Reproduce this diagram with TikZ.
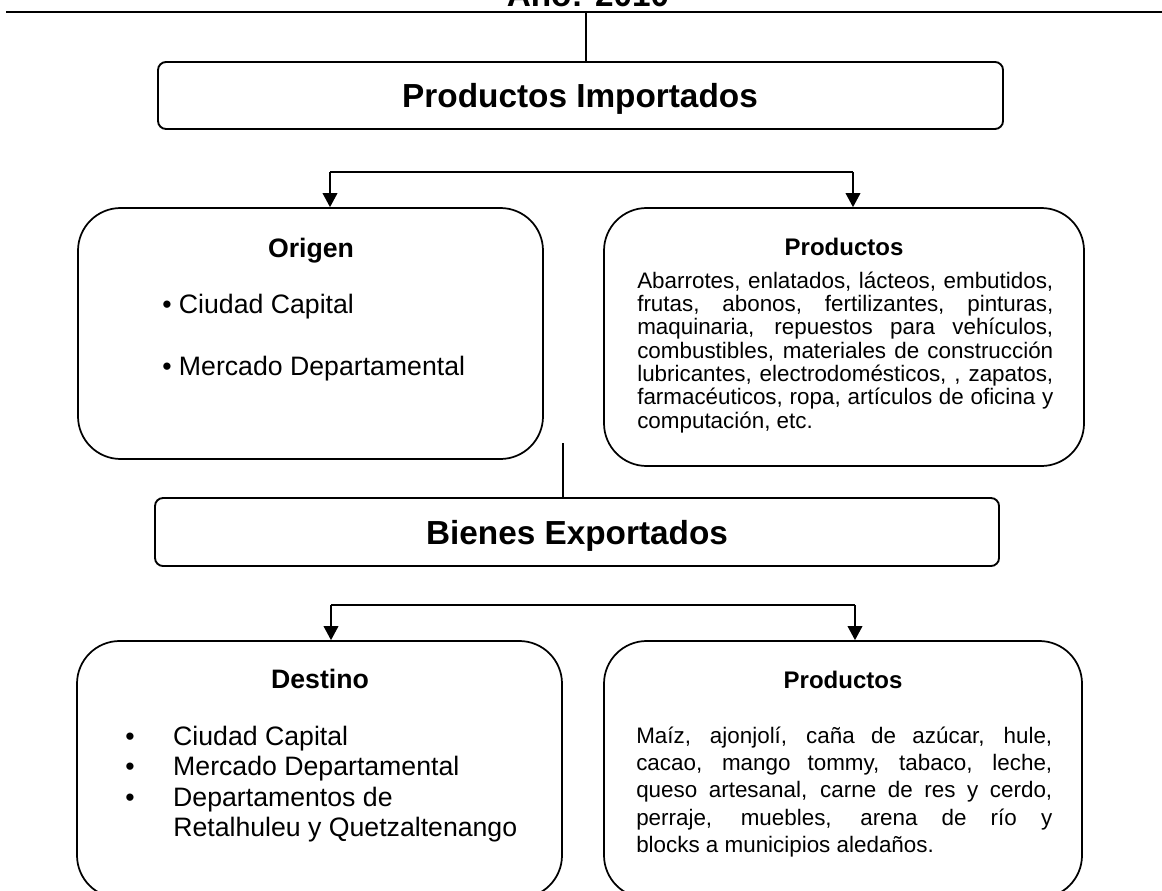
\documentclass[tikz,border=0pt]{standalone}
\usepackage{fontspec}
\setmainfont{Liberation Sans}
\usetikzlibrary{fit,arrows.meta}
\hyphenpenalty=10000
\exhyphenpenalty=10000

\begin{document}
\begin{tikzpicture}[x=0.75pt, y=-0.75pt,
    caja/.style={draw, line width=1.4pt, rounded corners=6pt, inner sep=0pt},
    cajota/.style={draw, line width=1.3pt, rounded corners=32pt, inner sep=0pt},
    titulo/.style={font=\bfseries\fontsize{25}{29}\selectfont, anchor=base},
    sub/.style={font=\bfseries\fontsize{20}{24}\selectfont, anchor=base, inner sep=0pt},
    item/.style={font=\fontsize{20}{24}\selectfont, anchor=base west, inner sep=0pt},
    texto/.style={font=\fontsize{16.8}{17.5}\selectfont, align=justify, text width=312pt,
        anchor=base west, inner sep=0pt},
    linea/.style={line width=1.1pt},
    flecha/.style={linea, -{Triangle[width=11pt,length=10.5pt]}}]
    \useasboundingbox (0,0) rectangle (1162,891);

    % titulo cortado y raya de arriba
    \node[titulo] (anio) at (588,7) {Año: 2010};
    \coordinate (rayaI) at (6,12);
    \coordinate (rayaD) at (1162,12);
    \draw[linea] (rayaI) -- (rayaD);

    % importados
    \node[caja, fit={(158,62) (1003,129)}] (imp) {};
    \node[titulo] (tImp) at (580,108) {Productos Importados};
    \coordinate (t1) at (586,12);
    \draw[linea] (t1) -- (t1 |- imp.north);

    \node[cajota, fit={(78,208) (543,459)}] (origen) {};
    \node[cajota, fit={(604,208) (1084,466)}] (prodimp) {};

    \coordinate (b1i) at (330,172);
    \coordinate (b1d) at (853,172);
    \draw[linea] (b1i) -- (b1d);
    \draw[flecha] (b1i) -- (b1i |- origen.north);
    \draw[flecha] (b1d) -- (b1d |- prodimp.north);

    \node[sub] (tOrigen) at (311,257) {Origen};
    \foreach \t [count=\i] in {Ciudad Capital, Mercado Departamental}
        \node[item] (o\i) at (162,251+62*\i) {\textbullet\ \t};

    \node[sub, font=\bfseries\fontsize{18}{22}\selectfont] (tProdimp) at (844,255) {Productos};
    \node[texto] (lProdimp) at (637,288) {Abarrotes, enlatados, lácteos, embutidos,\linebreak
      frutas, abonos, fertilizantes, pinturas,\linebreak
      maquinaria, repuestos para vehículos,\linebreak
      combustibles, materiales de construcción\linebreak
      lubricantes, electrodomésticos, , zapatos,\linebreak
      farmacéuticos, ropa, artículos de oficina y\linebreak
      computación, etc.};

    % exportados
    \node[caja, fit={(155,498) (999,566)}] (exp) {};
    \node[titulo] (tExp) at (577,544) {Bienes Exportados};
    \coordinate (sube) at (563,443);
    \draw[linea] (sube) -- (sube |- exp.north);

    \node[cajota, fit={(77,641) (562,898)}] (destino) {};
    \node[cajota, fit={(604,641) (1082,898)}] (prodexp) {};

    \coordinate (b2i) at (331,605);
    \coordinate (b2d) at (855,605);
    \draw[linea] (b2i) -- (b2d);
    \draw[flecha] (b2i) -- (b2i |- destino.north);
    \draw[flecha] (b2d) -- (b2d |- prodexp.north);

    \node[sub] (tDestino) at (320,688) {Destino};
    \foreach \t [count=\i] in {Ciudad Capital, Mercado Departamental, Departamentos de}
        \node[item] (d\i) at (125,714.5+30.5*\i) {\makebox[36pt][l]{\textbullet}\t};
    \node[item] (d4) at (d3.base west) [yshift=-22.9pt, xshift=36pt] {Retalhuleu y Quetzaltenango};

    \node[sub, font=\bfseries\fontsize{18}{22}\selectfont] (tProdexp) at (843,688) {Productos};
    \node[texto, font=\fontsize{16.8}{20.6}\selectfont] (lProdexp) at (636,743) {Maíz, ajonjolí, caña de azúcar, hule,\linebreak
      cacao, mango tommy, tabaco, leche,\linebreak
      queso artesanal, carne de res y cerdo,\linebreak
      perraje, muebles, arena de río y\linebreak
      blocks a municipios aledaños.};
\end{tikzpicture}
\end{document}
